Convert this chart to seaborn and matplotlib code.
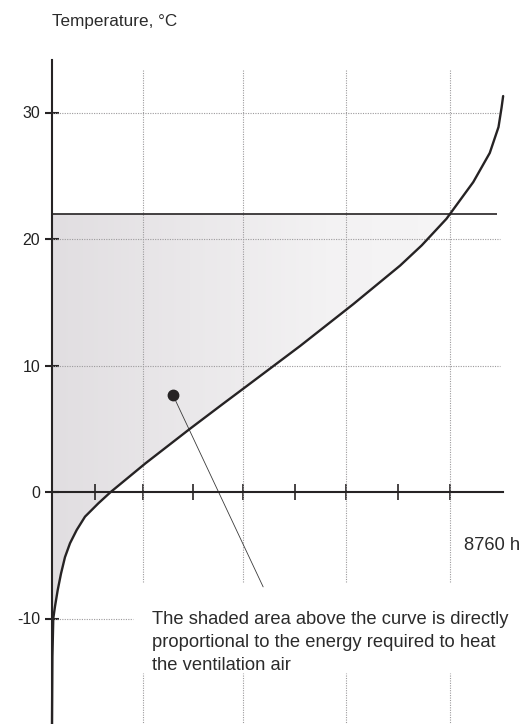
import numpy as np
import matplotlib
matplotlib.use("Agg")
import matplotlib.pyplot as plt
import seaborn as sns
from matplotlib.colors import LinearSegmentedColormap

# annual temperature duration curve (hours of the year vs outdoor temperature)
hours = [0, 8, 25, 58, 111, 175, 252, 350, 480, 641, 899, 1140, 1810, 2680,
         3330, 3790, 4820, 5850, 6760, 7180, 7660, 8180, 8500, 8670, 8730, 8760]
temps = [-18.5, -13.0, -10.0, -9.05, -7.75, -6.45, -5.15, -4.05, -3.0, -1.95,
         -0.9, 0.0, 2.25, 5.0, 7.0, 8.4, 11.55, 14.85, 17.9, 19.5, 21.6, 24.5,
         26.8, 28.85, 30.4, 31.3]

indoor_temp = 22.0
indoor_end = 8640
year_hours = 8760

y_ticks = [-10, 0, 10, 20, 30]
x_ticks = [835, 1767, 2738, 3709, 4718, 5709, 6718, 7728]
x_grid = [1767, 3709, 5709, 7728]

annot_point = (2350, 7.65)
annot_tail = (4100, -7.5)
note = ("The shaded area above the curve is directly\n"
        "proportional to the energy required to heat\n"
        "the ventilation air")

sns.set_style("white")
plt.rcParams['font.family'] = ['Liberation Sans', 'DejaVu Sans']

W, H = 530, 724
fig = plt.figure(figsize=(W / 100, H / 100), dpi=100)
ax = fig.add_axes([0, 0, 1, 1])
ax.set_facecolor('none')

ink = '#262324'
hours_a = np.array(hours)
temps_a = np.array(temps)

# grid (dotted, interrupted by the note)
gcol = '#9c9a9c'
gkw = dict(colors=gcol, linestyles=(0, (1, 1.2)), linewidths=0.8, zorder=1)
ax.hlines([30, 20, 10], 0, 8700, **gkw)
ax.hlines([-10], 0, 1570, **gkw)
ax.vlines(x_grid, -7.1, 33.4, **gkw)
ax.vlines(x_grid, -18.4, -14.3, **gkw)

# shaded heating area with a soft gradient
fill = ax.fill_between(hours_a, temps_a, indoor_temp, where=temps_a <= indoor_temp,
                       interpolate=True, color='none', lw=0)
shade = LinearSegmentedColormap.from_list('shade', ['#e1dee1', '#eae8ea', '#f3f2f3', '#f6f5f6'])
grad = np.linspace(0, 1, 256).reshape(1, -1)
img = ax.imshow(grad, extent=(0, 8000, -19, 23), aspect='auto', cmap=shade,
                interpolation='bilinear', zorder=0.5)
img.set_clip_path(fill.get_paths()[0], transform=ax.transData)

# curve and indoor temperature line
sns.lineplot(x=hours, y=temps, ax=ax, sort=False, estimator=None,
             color=ink, linewidth=1.7, zorder=4)
ax.hlines(indoor_temp, 0, indoor_end, colors=ink, linewidths=1.2, zorder=4)

# annotation
ax.annotate('', xy=annot_point, xytext=annot_tail,
            arrowprops=dict(arrowstyle='-', color='#3a3a3a', lw=0.6, shrinkA=0, shrinkB=0))
ax.plot(*annot_point, 'o', color=ink, markersize=7.5, zorder=5)
ax.text(1942, -9.4, note, fontsize=13.2, color='#2b2b2b', va='top', ha='left',
        linespacing=1.47)

# axes as in the drawing
px_per_h = 0.0515
px_per_deg = 12.65
ax.set_xlim(-52 / px_per_h, (W - 52) / px_per_h)
ax.set_ylim(-(H - 492) / px_per_deg, 492 / px_per_deg)

for s in ['top', 'right']:
    ax.spines[s].set_visible(False)
ax.spines['left'].set_position(('data', 0))
ax.spines['bottom'].set_position(('data', 0))
ax.spines['left'].set_bounds(-(H - 492) / px_per_deg, 34.15)
ax.spines['bottom'].set_bounds(0, year_hours)
for s in ['left', 'bottom']:
    ax.spines[s].set_color(ink)
    ax.spines[s].set_linewidth(1.5)
    ax.spines[s].set_zorder(6)

ax.set_yticks(y_ticks)
ax.set_yticklabels([str(v) for v in y_ticks])
ax.set_xticks(x_ticks)
ax.set_xticklabels([])
ax.tick_params(axis='y', direction='inout', length=9.4, width=1.5, color=ink,
               labelsize=11.5, labelcolor='#222', pad=3.9, left=True)
ax.tick_params(axis='x', direction='inout', length=12, width=1.2, color=ink, bottom=True)

fig.text(52 / W, 1 - 26 / H, 'Temperature, °C', fontsize=12.3, color='#2b2b2b',
         ha='left', va='baseline')
fig.text(520 / W, 1 - 550 / H, '8760 h', fontsize=13.2, color='#2b2b2b',
         ha='right', va='baseline')

fig.savefig('out.png', dpi=100)
